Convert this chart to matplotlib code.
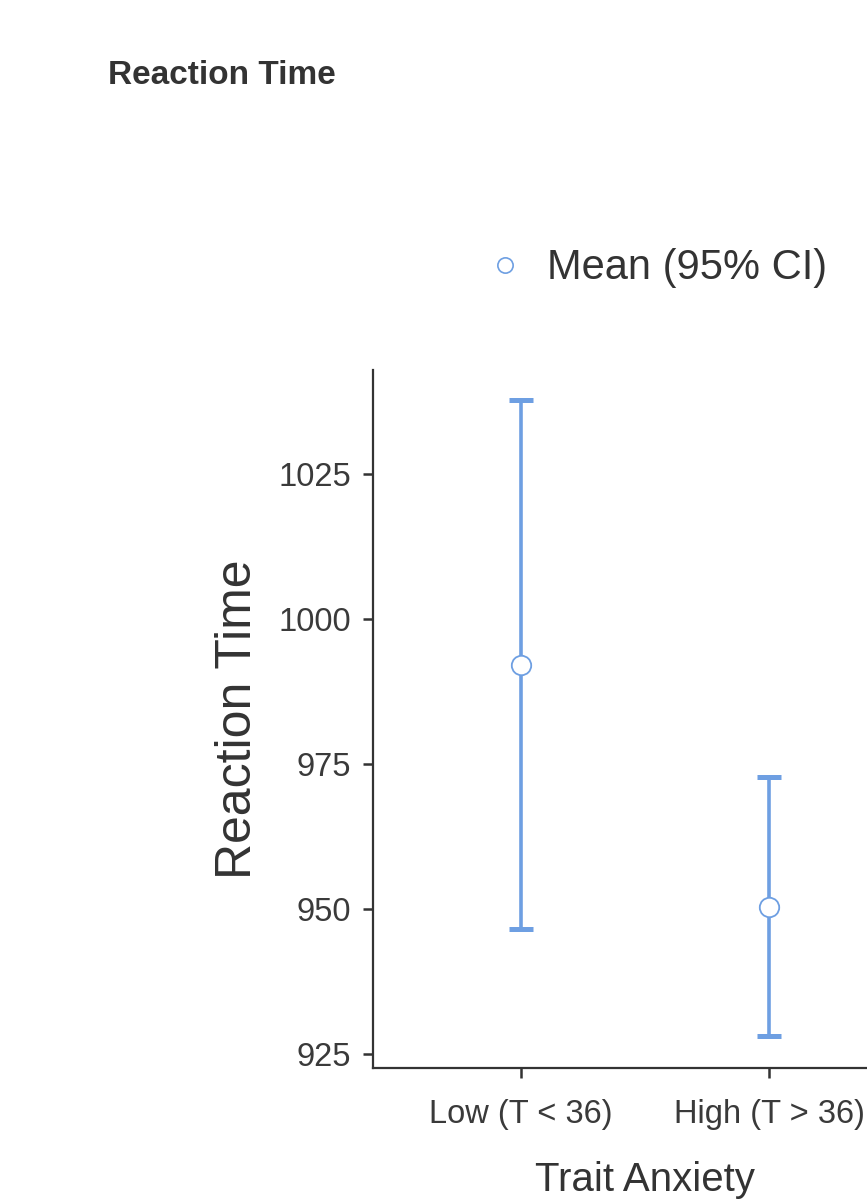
import matplotlib
matplotlib.use("Agg")
import matplotlib.pyplot as plt
from matplotlib.lines import Line2D
import numpy as np

# ── Data ───────────────────────────────────────────────────────────────────────
GROUPS  = ["Low (T < 36)", "High (T > 36)"]
MEANS   = [992.1, 950.3]
CI_LOW  = [946.6, 928.1]
CI_HIGH = [1037.8, 972.8]
YTICKS  = [925, 950, 975, 1000, 1025]

BLUE = "#6e9fe2"
DARK = "#333333"
FONT = ["Liberation Sans", "DejaVu Sans"]

plt.rcParams.update({
    "font.family": FONT,
    "axes.spines.top": False,
    "axes.spines.right": False,
})

fig = plt.figure(figsize=(8.67, 12.03), dpi=100)
# axes purposely run past the right edge, as in the cropped original
ax = fig.add_axes([0.4302, 0.1122, 0.6275, 0.5802])

x = np.arange(1, len(GROUPS) + 1)
means = np.array(MEANS)
yerr = np.vstack([means - np.array(CI_LOW), np.array(CI_HIGH) - means])

ax.errorbar(x, means, yerr=yerr, fmt="none", ecolor=BLUE,
            elinewidth=2.6, capsize=8.3, capthick=3.6, zorder=2)
ax.plot(x, means, "o", markersize=14, markerfacecolor="white",
        markeredgecolor=BLUE, markeredgewidth=1.3, zorder=3)

ax.set_xlim(0.403, 2.597)
ax.set_ylim(922.6, 1042.9)
ax.set_xticks(x)
ax.set_xticklabels(GROUPS)
ax.set_yticks(YTICKS)

for s in ["left", "bottom"]:
    ax.spines[s].set_color(DARK)
    ax.spines[s].set_linewidth(1.6)
ax.tick_params(axis="both", colors=DARK, labelcolor="#3a3a3a", width=1.8,
               length=7.5, labelsize=23.5)
ax.tick_params(axis="y", pad=8)
ax.tick_params(axis="x", pad=15)

ax.set_ylabel("Reaction Time", fontsize=36, color=DARK, labelpad=12.5)
ax.set_xlabel("Trait Anxiety", fontsize=29, color=DARK, labelpad=22)

# legend
handle = Line2D([], [], marker="o", linestyle="none", markersize=11,
                markerfacecolor="white", markeredgecolor=BLUE, markeredgewidth=1.2)
fig.legend([handle], ["Mean (95% CI)"], loc="center left",
           bbox_to_anchor=(0.5156, 0.777), frameon=False, fontsize=30,
           labelcolor=DARK, handletextpad=0.5, handlelength=1.0)

fig.text(108 / 867, 1 - 76 / 1203, "Reaction Time", fontsize=24, fontweight="bold",
         color=DARK, ha="left", va="center")

fig.savefig("out.png", dpi=100)
